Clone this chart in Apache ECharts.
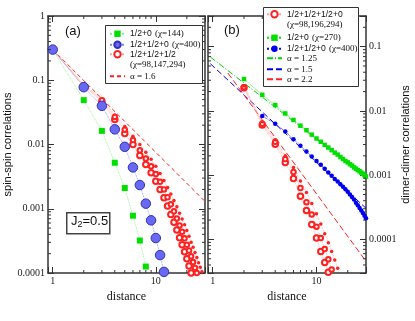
<!DOCTYPE html>
<html>
<head>
<meta charset="utf-8">
<script src="https://cdn.jsdelivr.net/npm/echarts@6/dist/echarts.min.js"></script>
<style>
html, body {margin: 0; padding: 0; background: #fff;}
#chart {width: 415px; height: 321px;}
</style>
</head>
<body>
<div id="chart"></div>
<script>
// (a) spin-spin correlations, J2=0.5
var aGreenX = [1, 2, 3, 4, 5, 6, 7, 8];
var aGreenY = [0.3, 0.049, 0.0163, 0.0052, 0.0021, 0.00078, 0.00032, 0.000126];
var aBlueX = [1, 2, 3, 4, 5, 6, 7, 8, 9, 10, 11, 12];
var aBlueY = [0.3, 0.078, 0.040, 0.0172, 0.0092, 0.0044, 0.00234, 0.0012, 0.00066, 0.00035, 0.00019, 0.000104];
var aRed98X = [1, 2, 3, 4, 5, 6, 7, 8, 9, 10, 11, 12, 13, 14, 15, 16, 17, 18, 19, 20, 21, 22];
var aRed98Y = [0.3, 0.0813, 0.0468, 0.0245, 0.0148, 0.0100, 0.00676, 0.0049, 0.00363, 0.00269, 0.0020,
	0.00148, 0.0011, 0.000813, 0.000617, 0.000468, 0.000355, 0.000275, 0.000214, 0.000166, 0.000129, 0.0001];
var aRed147X = [1, 2, 3, 4, 5, 6, 7, 8, 9, 10, 11, 12, 13, 14, 15, 16, 17, 18, 19, 20, 21, 22, 23, 24, 25];
var aRed147Y = [0.3, 0.0832, 0.049, 0.0269, 0.017, 0.0117, 0.00813, 0.00603, 0.00457, 0.00347, 0.00263,
	0.0020, 0.00151, 0.00117, 0.000912, 0.000708, 0.00055, 0.000437, 0.000347, 0.000275, 0.000224,
	0.000182, 0.000148, 0.00012, 0.0001];
var aRed294X = [1, 2, 3, 4, 5, 6, 7, 8, 9, 10, 11, 12, 13, 14, 15, 16, 17, 18, 19, 20, 21, 22, 23, 24, 25, 26, 27, 28];
var aRed294Y = [0.3, 0.0851, 0.0513, 0.0288, 0.0191, 0.0135, 0.0100, 0.00759, 0.00589, 0.00457, 0.00355,
	0.00275, 0.00214, 0.0017, 0.00135, 0.00107, 0.000851, 0.000692, 0.000562, 0.000457, 0.000372,
	0.000302, 0.000251, 0.000209, 0.000174, 0.000145, 0.000123, 0.000105];
var aFitX = [1, 30];
var aFitY = [0.3, 0.0013];

// (b) dimer-dimer correlations
var bGreenX = [2, 3, 4, 5, 6, 7, 8, 9, 10, 11, 12, 13, 14, 15, 16, 17, 18, 19, 20, 21, 22, 23, 24, 25, 26, 27, 28, 29, 30];
var bGreenY = [0.0313, 0.0178, 0.0123, 0.00912, 0.00724, 0.00589, 0.00501, 0.00427, 0.00372, 0.00331,
	0.00295, 0.00269, 0.00245, 0.00224, 0.00209, 0.00191, 0.00178, 0.00166, 0.00158, 0.00148,
	0.00141, 0.00132, 0.00126, 0.0012, 0.00115, 0.0011, 0.00105, 0.0010, 0.00095];
var bBlueX = [3, 4, 5, 6, 7, 8, 9, 10, 11, 12, 13, 14, 15, 16, 17, 18, 19, 20, 21, 22, 23, 24, 25, 26, 27, 28, 29, 30];
var bBlueY = [0.00832, 0.00631, 0.00479, 0.00363, 0.00288, 0.00234, 0.00195, 0.00166, 0.00145, 0.00126,
	0.0011, 0.000977, 0.000871, 0.000794, 0.000724, 0.000661, 0.000603, 0.00055, 0.000501, 0.000457,
	0.000417, 0.000372, 0.000339, 0.000309, 0.000282, 0.000257, 0.000234, 0.000214];
var bRed98X = [2, 3, 4, 5, 6, 7, 8, 9, 10, 11, 12, 13];
var bRed98Y = [0.0229, 0.00603, 0.00302, 0.00158, 0.000891, 0.000468, 0.000282, 0.00017, 0.000105, 6.46e-5, 4.37e-5, 3.09e-5];
var bRed196X = [2, 3, 4, 5, 6, 7, 8, 9, 10, 11, 12, 13, 14];
var bRed196Y = [0.0234, 0.00631, 0.00331, 0.00178, 0.00112, 0.000631, 0.00038, 0.000245, 0.000158, 0.000105, 7.08e-5, 4.9e-5, 3.39e-5];
var bRed294X = [2, 3, 4, 5, 6, 7, 8, 9, 10, 11, 12, 13, 14, 15, 16];
var bRed294Y = [0.0245, 0.00676, 0.00355, 0.0020, 0.00132, 0.000813, 0.000537, 0.000363, 0.000251, 0.000174,
	0.000123, 8.91e-5, 6.46e-5, 4.79e-5, 3.55e-5];
var bFit125X = [0.95, 30];
var bFit125Y = [0.0689, 0.00092];
var bFit15X = [0.95, 30];
var bFit15Y = [0.0541, 0.000305];
var bFit22X = [1.4, 30];
var bFit22Y = [0.0388, 4.57e-5];

// minor tick positions
var xMinor = [2, 3, 4, 5, 6, 7, 8, 9, 20];
var aYMinor = [2e-4, 3e-4, 4e-4, 5e-4, 6e-4, 7e-4, 8e-4, 9e-4, 2e-3, 3e-3, 4e-3, 5e-3, 6e-3, 7e-3, 8e-3, 9e-3,
	0.02, 0.03, 0.04, 0.05, 0.06, 0.07, 0.08, 0.09, 0.2, 0.3, 0.4, 0.5, 0.6, 0.7, 0.8, 0.9];
var bYMinor = [4e-5, 5e-5, 6e-5, 7e-5, 8e-5, 9e-5, 2e-4, 3e-4, 4e-4, 5e-4, 6e-4, 7e-4, 8e-4, 9e-4,
	2e-3, 3e-3, 4e-3, 5e-3, 6e-3, 7e-3, 8e-3, 9e-3, 0.02, 0.03, 0.04, 0.05, 0.06, 0.07, 0.08, 0.09, 0.2];

var legendText = {
	'a-green': '{s|1/2+0} {r|(χ=144)}',
	'a-blue': '{s|1/2+1/2+0} {r|(χ=400)}',
	'a-red': '{e| }\n{s|1/2+1/2+1/2}\n{r|(χ=98,147,294)}',
	'a-fit': '{r|α = 1.6}',
	'b-red': '{e| }\n{s|1/2+1/2+1/2+0}\n{r|(χ=98,196,294)}',
	'b-green': '{s|1/2+0} {r|(χ=270)}',
	'b-blue': '{s|1/2+1/2+0} {r|(χ=400)}',
	'b-fit125': '{r|α = 1.25}',
	'b-fit15': '{r|α = 1.5}',
	'b-fit22': '{r|α = 2.2}'
};

var frameColor = '#333';
var serif = 'Liberation Serif';
var sans = 'Liberation Sans';
var red = '#ff2020';

function pts(xs, ys) {
	return xs.map(function (x, i) { return [x, ys[i]]; });
}

function decadeLabel(v) {
	var l = Math.log(v) / Math.LN10;
	var r = Math.round(l);
	if (Math.abs(l - r) > 1e-6) return '';
	return r >= 0 ? String(Math.round(v)) : v.toFixed(-r);
}

function logAxis(grid, pos, min, max, showLabel, extra) {
	var ax = {
		gridIndex: grid,
		type: 'log',
		logBase: 10,
		position: pos,
		min: min,
		max: max,
		axisLine: {lineStyle: {color: frameColor, width: 1.5}},
		axisTick: {show: true, inside: true, length: 6, lineStyle: {color: frameColor, width: 1}},
		axisLabel: {show: showLabel, formatter: decadeLabel, margin: 3,
			fontFamily: serif, fontSize: 10, color: '#222'},
		splitLine: {show: false}
	};
	for (var k in extra) ax[k] = extra[k];
	return ax;
}

function minorTicks(xIdx, yIdx, data, dir) {
	return {
		type: 'custom',
		xAxisIndex: xIdx,
		yAxisIndex: yIdx,
		silent: true,
		clip: false,
		z: 5,
		data: data,
		renderItem: function (params, api) {
			var cs = params.coordSys;
			var p = api.coord([api.value(0), api.value(1)]);
			var st = {stroke: frameColor, lineWidth: 1};
			if (dir === 'x') {
				var b = cs.y + cs.height;
				return {type: 'group', children: [
					{type: 'line', shape: {x1: p[0], y1: b, x2: p[0], y2: b - 3}, style: st},
					{type: 'line', shape: {x1: p[0], y1: cs.y, x2: p[0], y2: cs.y + 3}, style: st}
				]};
			}
			var r = cs.x + cs.width;
			return {type: 'group', children: [
				{type: 'line', shape: {x1: cs.x, y1: p[1], x2: cs.x + 3, y2: p[1]}, style: st},
				{type: 'line', shape: {x1: r, y1: p[1], x2: r - 3, y2: p[1]}, style: st}
			]};
		}
	};
}

function lineSeries(name, xIdx, yIdx, data, symbol, size, item, line) {
	return {
		name: name,
		type: 'line',
		xAxisIndex: xIdx,
		yAxisIndex: yIdx,
		data: data,
		symbol: symbol,
		symbolSize: size,
		showSymbol: symbol !== 'none',
		itemStyle: item,
		lineStyle: line,
		z: 3
	};
}

var legendRich = {
	e: {fontFamily: sans, fontSize: 8.5, lineHeight: 10.5},
	s: {fontFamily: sans, fontSize: 8.6, lineHeight: 10.5, color: '#111'},
	r: {fontFamily: serif, fontSize: 9, lineHeight: 10.5, color: '#111'}
};

// one legend per row so the two-line entries keep the icon on their first line
function legendRow(name, left, cy) {
	var twoLine = legendText[name].indexOf('\n') >= 0;
	var row = {
		data: [name],
		left: left,
		top: twoLine ? cy - 15.75 : cy - 5.25,
		orient: 'vertical',
		padding: 0,
		itemGap: 0,
		itemWidth: 15,
		itemHeight: 8,
		formatter: function (n) { return legendText[n]; },
		textStyle: {rich: legendRich},
		selectedMode: false,
		z: 12
	};
	// fit lines: no marker in the key
	if (name.indexOf('fit') >= 0) row.itemStyle = {opacity: 0};
	return row;
}

var chart = echarts.init(document.getElementById('chart'), null, {renderer: 'canvas'});
var option = {
	animation: false,
	backgroundColor: '#fff',
	grid: [
		{left: 48, top: 16, width: 157, height: 257, containLabel: false, outerBoundsMode: 'none'},
		{left: 208, top: 16, width: 158, height: 257, containLabel: false, outerBoundsMode: 'none'}
	],
	xAxis: [
		logAxis(0, 'bottom', 0.9, 30, true, {name: 'distance', nameLocation: 'middle', nameGap: 10,
			nameTextStyle: {fontFamily: serif, fontSize: 12, color: '#111'}}),
		logAxis(0, 'top', 0.9, 30, false, {}),
		logAxis(1, 'bottom', 0.9, 30, true, {name: 'distance', nameLocation: 'middle', nameGap: 10,
			nameTextStyle: {fontFamily: serif, fontSize: 12, color: '#111'}}),
		logAxis(1, 'top', 0.9, 30, false, {})
	],
	yAxis: [
		logAxis(0, 'left', 1e-4, 1, true, {name: 'spin-spin correlations', nameLocation: 'middle', nameGap: 28,
			nameRotate: 90, nameTextStyle: {fontFamily: sans, fontSize: 11, color: '#111'}}),
		logAxis(0, 'right', 1e-4, 1, false, {}),
		logAxis(1, 'left', 3e-5, 0.3, false, {}),
		logAxis(1, 'right', 3e-5, 0.3, true, {name: 'dimer-dimer correlations', nameLocation: 'middle', nameGap: 31,
			nameRotate: 90, nameTextStyle: {fontFamily: sans, fontSize: 11, color: '#111'}})
	],
	legend: [
		legendRow('a-green', 109, 33),
		legendRow('a-blue', 109, 44),
		legendRow('a-red', 109, 55),
		legendRow('a-fit', 109, 77),
		legendRow('b-red', 266, 15),
		legendRow('b-green', 266, 37),
		legendRow('b-blue', 266, 48),
		legendRow('b-fit125', 266, 59),
		legendRow('b-fit15', 266, 70),
		legendRow('b-fit22', 266, 80)
	],
	graphic: [
		{type: 'rect', left: 105, top: 25, z: 10, shape: {width: 97, height: 58},
			style: {fill: '#fff', stroke: frameColor, lineWidth: 1}},
		{type: 'rect', left: 263, top: 7, z: 10, shape: {width: 95, height: 79},
			style: {fill: '#fff', stroke: frameColor, lineWidth: 1}},
		{type: 'text', left: 65, top: 25, style: {text: '(a)', font: '13px "Liberation Sans"', fill: '#111'}},
		{type: 'text', left: 224, top: 24, style: {text: '(b)', font: '13px "Liberation Sans"', fill: '#111'}},
		{type: 'rect', left: 66, top: 212, shape: {width: 43, height: 21},
			style: {fill: '#fff', stroke: '#444', lineWidth: 1.5}, z: 10},
		{type: 'text', left: 71, top: 215, z: 11, style: {
			text: '{a|J}{b|2}{a|=0.5}',
			rich: {
				a: {font: '13px "Liberation Sans"', fill: '#111'},
				b: {font: '9px "Liberation Sans"', fill: '#111', padding: [7, 0, 0, 0]}
			}
		}}
	],
	series: [
		minorTicks(0, 0, xMinor.map(function (v) { return [v, 0.01]; }), 'x'),
		minorTicks(0, 0, aYMinor.map(function (v) { return [2, v]; }), 'y'),
		minorTicks(2, 2, xMinor.map(function (v) { return [v, 0.01]; }), 'x'),
		minorTicks(2, 2, bYMinor.map(function (v) { return [2, v]; }), 'y'),

		lineSeries('a-fit', 0, 0, pts(aFitX, aFitY), 'none', 0, {color: red},
			{color: red, width: 1, type: [4, 3]}),
		lineSeries('a-red-294', 0, 0, pts(aRed294X, aRed294Y), 'circle', 3.5, {color: red},
			{color: '#ffa0a0', width: 0.8, type: 'dotted'}),
		lineSeries('a-red', 0, 0, pts(aRed98X, aRed98Y), 'emptyCircle', 5.5, {color: red, borderWidth: 0.8},
			{color: '#ffa0a0', width: 0.8, type: 'dotted'}),
		lineSeries('a-red-147', 0, 0, pts(aRed147X, aRed147Y), 'emptyCircle', 4.5, {color: red, borderWidth: 0.8},
			{color: '#ffb080', width: 0.8, type: 'dotted'}),
		lineSeries('a-green', 0, 0, pts(aGreenX, aGreenY), 'rect', 6, {color: '#00e000'},
			{color: '#80ee80', width: 0.8, type: 'dotted'}),
		lineSeries('a-blue', 0, 0, pts(aBlueX, aBlueY), 'circle', 9.5,
			{color: '#6868f0', borderColor: '#3030b8', borderWidth: 1},
			{color: '#8080ff', width: 0.8, type: 'dotted'}),

		lineSeries('b-fit125', 2, 2, pts(bFit125X, bFit125Y), 'none', 0, {color: '#00d000'},
			{color: '#00d000', width: 1, type: [6, 2, 1, 2]}),
		lineSeries('b-fit15', 2, 2, pts(bFit15X, bFit15Y), 'none', 0, {color: '#0000f0'},
			{color: '#0000f0', width: 1, type: [6, 3]}),
		lineSeries('b-fit22', 2, 2, pts(bFit22X, bFit22Y), 'none', 0, {color: red},
			{color: red, width: 1, type: [6, 3]}),
		lineSeries('b-green', 2, 2, pts(bGreenX, bGreenY), 'rect', 4.5, {color: '#00e000'},
			{color: '#00e000', width: 0.8, type: 'dotted'}),
		lineSeries('b-blue', 2, 2, pts(bBlueX, bBlueY), 'circle', 4.5, {color: '#0000ee'},
			{color: '#0000ee', width: 0.8, type: 'dotted'}),
		lineSeries('b-red', 2, 2, pts(bRed98X, bRed98Y), 'emptyCircle', 5.5, {color: red, borderWidth: 0.8},
			{color: '#ffa0a0', width: 0.8, type: 'dotted'}),
		lineSeries('b-red-196', 2, 2, pts(bRed196X, bRed196Y), 'emptyCircle', 4.5, {color: red, borderWidth: 0.8},
			{color: '#ffa0a0', width: 0.8, type: 'dotted'}),
		lineSeries('b-red-294', 2, 2, pts(bRed294X, bRed294Y), 'circle', 3.5, {color: red},
			{color: '#ffa0a0', width: 0.8, type: 'dotted'})
	]
};
chart.setOption(option);
</script>
</body>
</html>
